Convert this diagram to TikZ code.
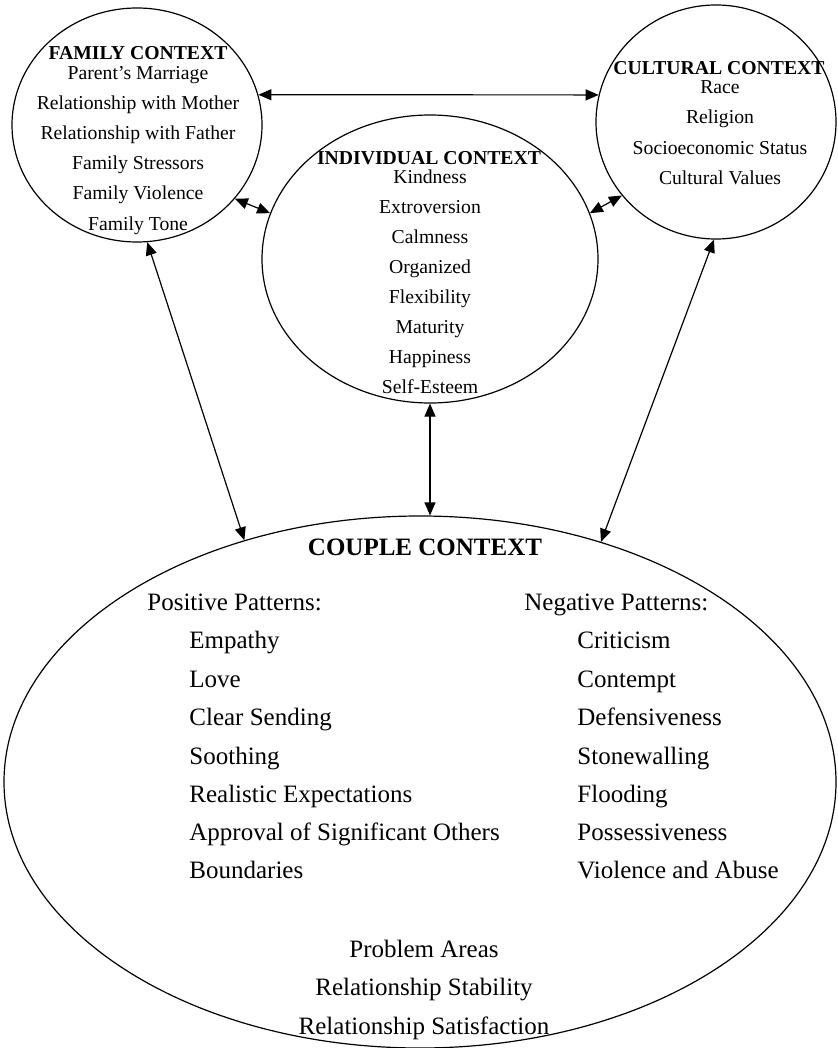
\documentclass[tikz,border=0pt]{standalone}
\usepackage{fontspec}
\setmainfont{Liberation Serif}
\usetikzlibrary{shapes.geometric,arrows.meta}

\begin{document}
\begin{tikzpicture}[x=0.5pt, y=-0.5pt,
	context/.style={draw, ellipse, inner sep=0pt, line width=0.6pt},
	heading/.style={font=\bfseries\fontsize{9.85}{12}\selectfont, inner sep=0pt},
	item/.style={font=\fontsize{9.85}{12}\selectfont, inner sep=0pt, text height=1.5ex, text depth=.25ex},
	couple heading/.style={font=\bfseries\fontsize{12.5}{15}\selectfont, inner sep=0pt},
	couple item/.style={font=\fontsize{12.5}{15}\selectfont, inner sep=0pt, text height=1.5ex, text depth=.25ex},
	link/.style={{Triangle[length=6.5pt,width=5.5pt]}-{Triangle[length=6.5pt,width=5.5pt]}, line width=0.6pt}]
	\useasboundingbox (0,0) rectangle (837,1048);

	% context circles
	\node[context, minimum width=125pt, minimum height=117pt] (family) at (137,125) {};
	\node[context, minimum width=168pt, minimum height=144pt] (individual) at (430,259) {};
	\node[context, minimum width=120pt, minimum height=117pt] (cultural) at (716,122) {};
	\node[context, minimum width=416pt, minimum height=266pt] (couple) at (420,782) {};

	% family context
	\node[heading] (family title) at (138,53) {FAMILY CONTEXT};
	\foreach \y/\ytext in {74/Parent's Marriage, 104/Relationship with Mother, 134/Relationship with Father, 164/Family Stressors, 194/Family Violence, 225/Family Tone}
		\node[item] (family-\y) at (138,\y) {\ytext};

	% individual context
	\node[heading] (individual title) at (429,158) {INDIVIDUAL CONTEXT};
	\foreach \y/\ytext in {178/Kindness, 208/Extroversion, 238/Calmness, 268/Organized, 298/Flexibility, 328/Maturity, 358/Happiness, 388/Self-Esteem}
		\node[item] (individual-\y) at (430,\y) {\ytext};

	% cultural context
	\node[heading] (cultural title) at (719,68) {CULTURAL CONTEXT};
	\foreach \y/\ytext in {88/Race, 118/Religion, 149/Socioeconomic Status, 179/Cultural Values}
		\node[item] (cultural-\y) at (720,\y) {\ytext};

	% couple context
	\node[couple heading] (couple title) at (425,547) {COUPLE CONTEXT};
	\node[couple item, anchor=west] (positive) at (147,605) {Positive Patterns:};
	\foreach \y/\ytext in {643/Empathy, 682/Love, 720/Clear Sending, 759/Soothing, 797/Realistic Expectations, 835/Approval of Significant Others, 873/Boundaries}
		\node[couple item, anchor=west] (positive-\y) at (189,\y) {\ytext};
	\node[couple item, anchor=west] (negative) at (524,605) {Negative Patterns:};
	\foreach \y/\ytext in {643/Criticism, 682/Contempt, 720/Defensiveness, 759/Stonewalling, 797/Flooding, 835/Possessiveness, 873/Violence and Abuse}
		\node[couple item, anchor=west] (negative-\y) at (577,\y) {\ytext};
	\foreach \y/\ytext in {952/Problem Areas, 990/Relationship Stability, 1029/Relationship Satisfaction}
		\node[couple item] (outcome-\y) at (424,\y) {\ytext};

	% connections
	\foreach \from/\to in {family.14/cultural.167, family.-37/individual.164, individual.16/cultural.218, family.-85/couple.126, cultural.-91/couple.53}
		\draw[link] (\from) -- (\to);
	\draw[link] (individual.south) -- (individual.south |- couple.north);
\end{tikzpicture}
\end{document}
